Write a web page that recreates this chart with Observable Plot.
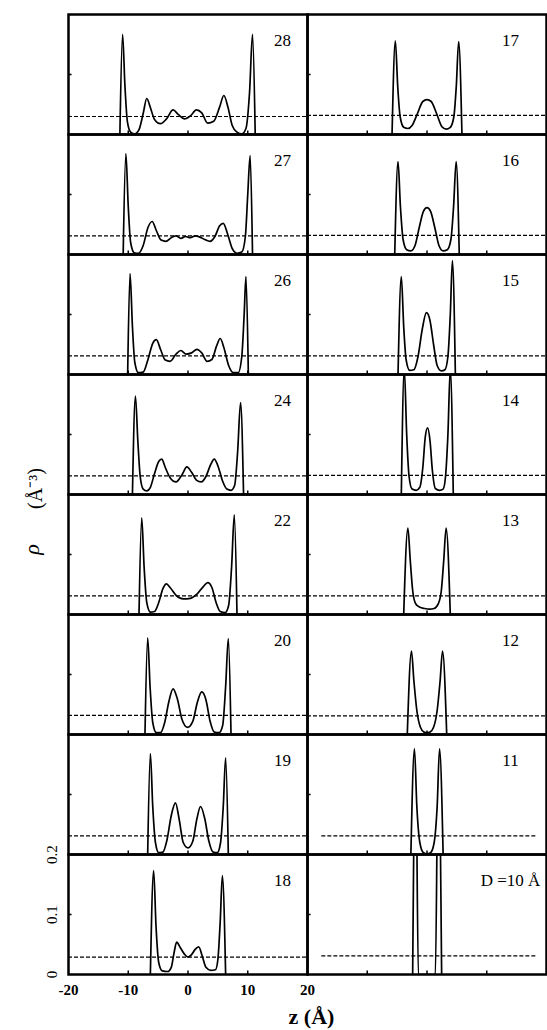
<!DOCTYPE html>
<html><head><meta charset="utf-8">
<script src="https://cdn.jsdelivr.net/npm/d3@7"></script>
<script src="https://cdn.jsdelivr.net/npm/@observablehq/plot@0.6"></script>
<style>body{margin:0;background:#fff}</style>
</head><body><div id="chart"></div>
<script>
// Panel labels (left column top→bottom, then right column top→bottom)
const panelLabels = ["28","27","26","24","22","20","19","18","17","16","15","14","13","12","11","D =10 Å"];
const panelCols = [0,0,0,0,0,0,0,0,1,1,1,1,1,1,1,1];
const panelRows = [0,1,2,3,4,5,6,7,0,1,2,3,4,5,6,7];

// Density profiles [z (Å), rho (Å^-3)]
const p28 = [[-11.4,0],[-10.95,0.167],[-10.55,0.08],[-10.15,0.022],[-9.6,0.004],[-8.9,0.001],[-8.2,0.008],[-7.5,0.035],[-6.9,0.060],[-6.3,0.045],[-5.6,0.025],[-4.6,0.018],[-3.6,0.026],[-2.5,0.041],[-1.6,0.033],[-0.6,0.026],[0.4,0.031],[1.4,0.041],[2.3,0.036],[3.3,0.019],[4.3,0.022],[5.3,0.046],[6.0,0.065],[6.7,0.045],[7.4,0.015],[8.2,0.004],[9.0,0.001],[9.7,0.01],[10.3,0.07],[10.8,0.167],[11.25,0]];
const p27 = [[-10.85,0],[-10.4,0.168],[-10.0,0.08],[-9.6,0.02],[-9.0,0.003],[-8.3,0.002],[-7.5,0.015],[-6.7,0.045],[-6.0,0.055],[-5.3,0.04],[-4.5,0.024],[-3.7,0.022],[-2.8,0.028],[-2.0,0.031],[-1.2,0.027],[-0.4,0.030],[0.4,0.028],[1.2,0.031],[2.0,0.029],[2.8,0.025],[3.7,0.022],[4.5,0.030],[5.3,0.048],[5.9,0.052],[6.6,0.035],[7.4,0.010],[8.2,0.002],[9.0,0.004],[9.6,0.03],[10.0,0.10],[10.4,0.165],[10.8,0]];
const p26 = [[-10.1,0],[-9.7,0.168],[-9.3,0.08],[-8.9,0.02],[-8.3,0.003],[-7.5,0.004],[-6.7,0.025],[-5.9,0.052],[-5.3,0.058],[-4.6,0.042],[-3.8,0.024],[-3.0,0.022],[-2.0,0.034],[-1.2,0.040],[-0.3,0.034],[0.6,0.036],[1.5,0.042],[2.3,0.036],[3.2,0.022],[4.0,0.025],[4.8,0.048],[5.4,0.060],[6.0,0.045],[6.8,0.015],[7.6,0.003],[8.4,0.003],[9.0,0.03],[9.4,0.10],[9.7,0.163],[10.1,0]];
const p24 = [[-9.3,0],[-8.8,0.164],[-8.4,0.09],[-8.0,0.03],[-7.5,0.009],[-6.9,0.006],[-6.3,0.012],[-5.6,0.035],[-4.9,0.055],[-4.4,0.059],[-3.8,0.045],[-3.0,0.028],[-2.0,0.021],[-1.0,0.033],[-0.2,0.046],[0.6,0.037],[1.4,0.024],[2.2,0.021],[3.0,0.030],[3.8,0.050],[4.4,0.059],[5.0,0.048],[5.8,0.022],[6.5,0.009],[7.2,0.007],[7.8,0.015],[8.3,0.07],[8.8,0.153],[9.3,0]];
const p22 = [[-8.2,0],[-7.75,0.161],[-7.35,0.08],[-6.9,0.02],[-6.3,0.004],[-5.6,0.005],[-4.9,0.02],[-4.2,0.043],[-3.6,0.051],[-3.0,0.045],[-2.0,0.032],[-0.8,0.026],[0.4,0.027],[1.5,0.034],[2.6,0.047],[3.3,0.053],[4.0,0.045],[4.7,0.02],[5.4,0.005],[6.2,0.003],[6.8,0.015],[7.3,0.08],[7.75,0.166],[8.2,0]];
const p20 = [[-7.2,0],[-6.75,0.161],[-6.35,0.08],[-5.9,0.02],[-5.3,0.003],[-4.6,0.003],[-3.9,0.02],[-3.2,0.055],[-2.5,0.076],[-1.8,0.06],[-1.0,0.025],[-0.1,0.012],[0.8,0.022],[1.6,0.055],[2.3,0.071],[3.0,0.058],[3.7,0.022],[4.4,0.004],[5.2,0.003],[5.8,0.015],[6.3,0.08],[6.75,0.16],[7.2,0]];
const p19 = [[-6.75,0],[-6.3,0.168],[-5.9,0.08],[-5.45,0.02],[-4.9,0.003],[-4.2,0.004],[-3.5,0.025],[-2.8,0.065],[-2.1,0.086],[-1.5,0.06],[-0.8,0.02],[0,0.011],[0.8,0.022],[1.5,0.06],[2.1,0.080],[2.8,0.06],[3.5,0.022],[4.2,0.004],[4.9,0.003],[5.45,0.02],[5.9,0.08],[6.3,0.161],[6.75,0]];
const p18 = [[-6.3,0],[-5.75,0.173],[-5.35,0.08],[-4.9,0.02],[-4.3,0.006],[-3.4,0.005],[-2.8,0.012],[-2.3,0.038],[-1.9,0.054],[-1.3,0.045],[-0.6,0.034],[0,0.029],[0.6,0.033],[1.2,0.042],[1.8,0.046],[2.4,0.03],[3.0,0.012],[3.8,0.007],[4.6,0.008],[5.0,0.025],[5.4,0.09],[5.75,0.165],[6.3,0]];
const p17 = [[-5.85,0],[-5.3,0.156],[-4.9,0.08],[-4.5,0.03],[-3.9,0.012],[-3.2,0.01],[-2.5,0.015],[-1.6,0.035],[-0.7,0.055],[0,0.058],[0.7,0.055],[1.6,0.035],[2.5,0.013],[3.2,0.009],[3.9,0.012],[4.5,0.03],[4.9,0.08],[5.3,0.155],[5.85,0]];
const p16 = [[-5.4,0],[-4.85,0.155],[-4.45,0.08],[-4.0,0.025],[-3.4,0.008],[-2.7,0.006],[-2.0,0.015],[-1.3,0.045],[-0.6,0.072],[0,0.078],[0.6,0.072],[1.3,0.045],[2.0,0.015],[2.7,0.006],[3.4,0.008],[4.0,0.025],[4.45,0.08],[4.88,0.155],[5.4,0]];
const p15 = [[-4.85,0],[-4.3,0.163],[-3.9,0.08],[-3.5,0.025],[-2.9,0.007],[-2.2,0.008],[-1.5,0.03],[-0.8,0.075],[-0.1,0.103],[0.5,0.09],[1.1,0.05],[1.7,0.015],[2.4,0.006],[3.0,0.008],[3.5,0.03],[3.9,0.10],[4.25,0.19],[4.75,0]];
const p14 = [[-4.3,0],[-3.8,0.21],[-3.4,0.10],[-3.0,0.03],[-2.5,0.009],[-1.8,0.007],[-1.2,0.012],[-0.7,0.045],[-0.3,0.095],[0.1,0.111],[0.5,0.09],[0.9,0.04],[1.4,0.01],[2.1,0.007],[2.7,0.009],[3.1,0.03],[3.5,0.10],[3.9,0.21],[4.4,0]];
const p13 = [[-3.9,0],[-3.2,0.144],[-2.8,0.09],[-2.4,0.04],[-1.9,0.018],[-1.2,0.012],[-0.4,0.010],[0.4,0.009],[1.2,0.010],[1.9,0.018],[2.4,0.04],[2.8,0.09],[3.2,0.144],[3.9,0]];
const p12 = [[-3.3,0],[-2.6,0.139],[-2.2,0.09],[-1.7,0.04],[-1.1,0.012],[-0.5,0.004],[0,0.003],[0.5,0.004],[1.1,0.012],[1.7,0.04],[2.2,0.09],[2.6,0.139],[3.3,0]];
const p11 = [[-2.7,0],[-2.1,0.176],[-1.7,0.08],[-1.2,0.02],[-0.6,0.003],[0,0.001],[0.6,0.003],[1.2,0.02],[1.7,0.08],[2.1,0.176],[2.7,0]];
const p10 = [[-2.4,0],[-1.9,0.40],[-1.45,0.0],[1.4,0.0],[1.9,0.40],[2.45,0]];
const profiles = [p28,p27,p26,p24,p22,p20,p19,p18,p17,p16,p15,p14,p13,p12,p11,p10];

// Bulk density (dashed) level and extent per panel
const bulkDensity = [0.030,0.031,0.031,0.031,0.031,0.032,0.031,0.029,0.032,0.032,0.031,0.032,0.031,0.031,0.031,0.031];
const bulkStart = [-20,-20,-20,-20,-20,-20,-20,-20,-20,-20,-20,-20,-20,-20,-17.6,-17.6];
const bulkEnd   = [20,20,20,20,20,20,20,20,20,20,20,20,20,20,18.4,18.4];

// Axes
const xTicks = [-20,-10,0,10,20];
const xTickLabels = ["-20","-10","0","10","20"];
const yTicks = [0,0.1,0.2];
const yTickLabels = ["0","0.1","0.2"];
const minorXTicks = [-10,0,10];
const minorYTicks = [0.1];

// Build tables
const lineRows = profiles.flatMap((p,i)=>p.map(([z,rho])=>({panel:i,col:panelCols[i],row:panelRows[i],z,rho})));
const bulkRows = bulkDensity.map((rho,i)=>({col:panelCols[i],row:panelRows[i],rho,x1:bulkStart[i],x2:bulkEnd[i]}));
const labelRows = panelLabels.map((label,i)=>({col:panelCols[i],row:panelRows[i],label}));
const mxRows = panelLabels.flatMap((_,i)=>minorXTicks.map(v=>({col:panelCols[i],row:panelRows[i],v})));
const myRows = panelLabels.flatMap((_,i)=>minorYTicks.map(v=>({col:panelCols[i],row:panelRows[i],v})));
const xLabRows = xTicks.map((v,i)=>({col:0,row:7,v,label:xTickLabels[i]}));
const yLabRows = yTicks.map((v,i)=>({col:0,row:7,v,label:yTickLabels[i]}));
const xDom = [xTicks[0], xTicks[xTicks.length-1]];
const yDom = [yTicks[0], yTicks[yTicks.length-1]];

const chart = Plot.plot({
  width: 547, height: 1030,
  marginLeft: 68, marginRight: 1, marginTop: 13, marginBottom: 56,
  style: {background: "white", fontFamily: "'Liberation Serif', 'Times New Roman', serif", color: "black", overflow: "visible"},
  x: {domain: xDom, axis: null},
  y: {domain: yDom, axis: null},
  fx: {domain: [0,1], padding: 0, axis: null},
  fy: {domain: [0,1,2,3,4,5,6,7], padding: 0, axis: null},
  marks: [
    Plot.ruleY(bulkRows, {y: "rho", x1: "x1", x2: "x2", fx: "col", fy: "row", stroke: "black", strokeWidth: 1.2, strokeDasharray: "4,2"}),
    Plot.line(lineRows, {x: "z", y: "rho", z: "panel", fx: "col", fy: "row", curve: "monotone-x", stroke: "black", strokeWidth: 1.7, clip: true}),
    Plot.ruleX(mxRows, {x: "v", y1: yDom[0], y2: yDom[0] + 0.006, fx: "col", fy: "row", stroke: "black", strokeWidth: 1.5}),
    Plot.ruleY(myRows, {y: "v", x1: xDom[0], x2: xDom[0] + 0.6, fx: "col", fy: "row", stroke: "black", strokeWidth: 1.5}),
    Plot.frame({stroke: "black", strokeWidth: 2.5}),
    Plot.text(labelRows.filter(d=>d.col===0), {text: "label", fx: "col", fy: "row", frameAnchor: "top-right", dx: -25, dy: 26, textAnchor: "middle", lineAnchor: "middle", fontSize: 17}),
    Plot.text(labelRows.filter(d=>d.col===1), {text: "label", fx: "col", fy: "row", frameAnchor: "top-right", dx: -36, dy: 26, textAnchor: "middle", lineAnchor: "middle", fontSize: 17}),
    Plot.text(xLabRows, {x: "v", text: "label", fx: "col", fy: "row", frameAnchor: "bottom", dy: 16, lineAnchor: "middle", fontSize: 15, fontWeight: "bold"}),
    Plot.text(yLabRows, {y: "v", text: "label", fx: "col", fy: "row", frameAnchor: "left", dx: -16, rotate: -90, textAnchor: "middle", lineAnchor: "middle", fontSize: 15}),
    Plot.text([{col:0,row:7,label:"z (Å)"}], {text: "label", fx: "col", fy: "row", frameAnchor: "bottom-right", dx: 4, dy: 42, textAnchor: "middle", lineAnchor: "middle", fontSize: 22, fontWeight: "bold"}),
    Plot.text([{col:0,row:3,label:"(Å⁻³)"}], {text: "label", fx: "col", fy: "row", frameAnchor: "bottom-left", dx: -33, dy: -6, rotate: -90, textAnchor: "middle", lineAnchor: "middle", fontSize: 20}),
    Plot.text([{col:0,row:4,label:"ρ"}], {text: "label", fx: "col", fy: "row", frameAnchor: "top-left", dx: -37, dy: 55, rotate: -90, textAnchor: "middle", lineAnchor: "middle", fontSize: 22, fontStyle: "italic"})
  ]
});
document.getElementById("chart").appendChild(chart);
</script>
</body></html>
